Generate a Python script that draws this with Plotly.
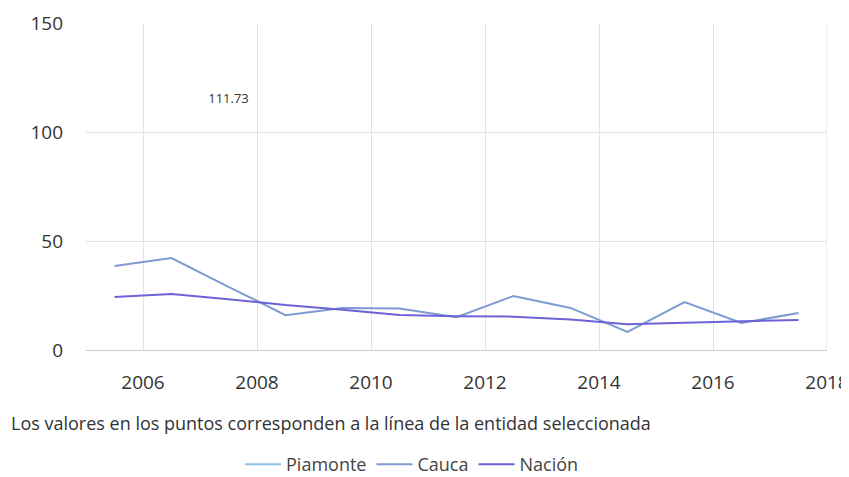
import plotly.graph_objects as go

years = [2005.5, 2006.5, 2007.5, 2008.5, 2009.5, 2010.5, 2011.5, 2012.5, 2013.5, 2014.5, 2015.5, 2016.5, 2017.5]
piamonte = [None, None, 111.73, None, None, None, None, None, None, None, None, None, None]
piamonte_text = ["", "", "111.73", "", "", "", "", "", "", "", "", "", ""]
cauca = [38.5, 42.2, 29.0, 16.0, 19.3, 19.0, 15.0, 24.8, 19.3, 8.3, 22.0, 12.4, 17.0]
nacion = [24.3, 25.7, 23.3, 20.6, 18.5, 16.0, 15.5, 15.3, 14.0, 11.8, 12.5, 13.0, 13.8]

font_family = "Open Sans, Noto Sans, sans-serif"

fig = go.Figure()
fig.add_trace(go.Scatter(x=years, y=piamonte, name="Piamonte", mode="lines+text",
                         text=piamonte_text, textposition="top center",
                         textfont=dict(size=13, color="#333333"),
                         line=dict(color="#8fc1e6", width=2)))
fig.add_trace(go.Scatter(x=years, y=cauca, name="Cauca", mode="lines",
                         line=dict(color="#7f9ad2", width=2)))
fig.add_trace(go.Scatter(x=years, y=nacion, name="Nación", mode="lines",
                         line=dict(color="#6b63d6", width=2)))

# page body has an 8px default margin; figure sized to fit inside the window
fig.update_layout(
    width=841, height=469,
    margin=dict(l=78, r=22, t=15, b=127, autoexpand=False),
    paper_bgcolor="white", plot_bgcolor="white",
    font=dict(family=font_family, color="#333333"),
    showlegend=True,
    legend=dict(orientation="h", x=0.44, xanchor="center", y=-0.35, yanchor="middle",
                font=dict(size=18, color="#444444"), itemwidth=36),
    xaxis=dict(range=[2005, 2018], tickvals=[2006, 2008, 2010, 2012, 2014, 2016, 2018],
               showgrid=True, gridcolor="#e3e3e3", gridwidth=1,
               showline=True, linecolor="#cccccc", linewidth=1, mirror=False,
               zeroline=False, ticks="", tickfont=dict(size=19, color="#333333"),
               ticklabelstandoff=15),
    yaxis=dict(range=[0, 150], tickvals=[0, 50, 100, 150],
               showgrid=True, gridcolor="#e3e3e3", gridwidth=1,
               zeroline=False, showline=False, ticks="",
               tickfont=dict(size=19, color="#333333"),
               ticklabelstandoff=22),
    annotations=[dict(text="Los valores en los puntos corresponden a la línea de la entidad seleccionada",
                      xref="paper", yref="paper", x=-0.104, y=-0.223, xanchor="left", yanchor="middle",
                      showarrow=False, font=dict(size=18, color="#333333"))],
)
fig.add_shape(type="line", xref="x", yref="paper", x0=2018, x1=2018, y0=0, y1=1,
              line=dict(color="#e3e3e3", width=1))

fig.write_html("out.html")
